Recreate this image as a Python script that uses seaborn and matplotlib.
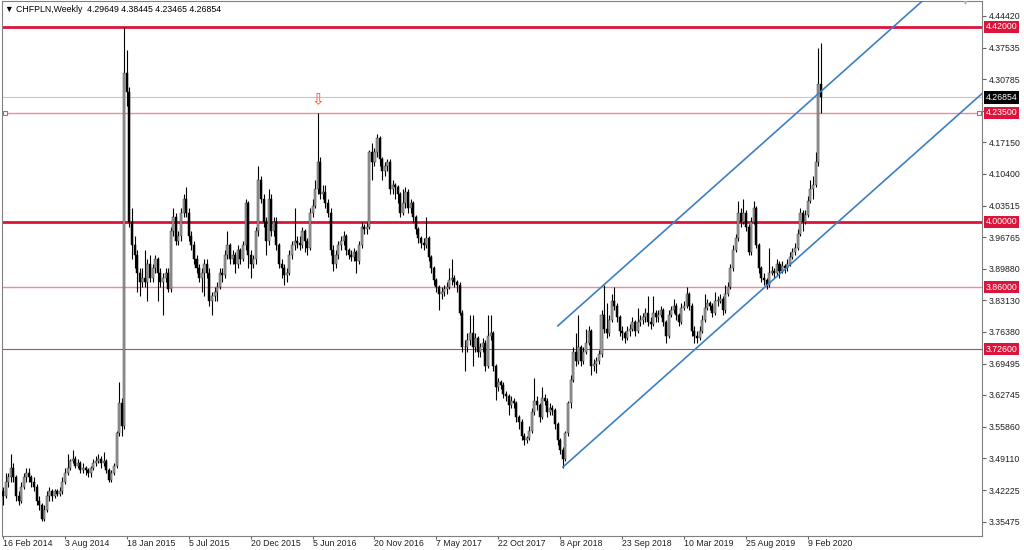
import matplotlib
matplotlib.use("Agg")
import matplotlib.pyplot as plt
import matplotlib.transforms as mtransforms
import pandas as pd
import seaborn as sns

# weekly CHFPLN candles, bar 0 = week of 16 Feb 2014
first_open = 3.42
closes = [
    3.41, 3.44, 3.45, 3.47, 3.45, 3.41, 3.40, 3.43, 3.45, 3.46,
    3.45, 3.44, 3.43, 3.40, 3.39, 3.36, 3.38, 3.41, 3.42, 3.41,
    3.42, 3.415, 3.42, 3.44, 3.46, 3.47, 3.485, 3.49, 3.475, 3.48,
    3.465, 3.47, 3.465, 3.46, 3.47, 3.48, 3.485, 3.49, 3.48, 3.485,
    3.465, 3.445, 3.46, 3.475, 3.545, 3.61, 3.56, 4.32, 4.28, 4.00,
    3.95, 3.93, 3.89, 3.87, 3.88, 3.87, 3.91, 3.88, 3.90, 3.92,
    3.89, 3.87, 3.88, 3.89, 3.855, 3.98, 4.01, 3.96, 3.97, 4.02,
    4.05, 4.02, 3.97, 3.95, 3.92, 3.90, 3.88, 3.89, 3.91, 3.89,
    3.83, 3.84, 3.85, 3.86, 3.89, 3.885, 3.93, 3.95, 3.92, 3.93,
    3.91, 3.94, 3.92, 3.95, 4.04, 3.93, 3.91, 3.92, 3.98, 4.09,
    4.05, 4.00, 3.96, 4.05, 3.98, 4.00, 3.95, 3.91, 3.90, 3.885,
    3.89, 3.93, 3.95, 3.96, 3.955, 3.95, 3.98, 3.96, 3.945, 4.02,
    4.035, 4.07, 4.13, 4.06, 4.065, 4.04, 4.02, 3.94, 3.91, 3.93,
    3.95, 3.96, 3.97, 3.94, 3.93, 3.925, 3.935, 3.915, 3.95, 3.99,
    3.985, 3.99, 4.15, 4.13, 4.15, 4.18, 4.135, 4.11, 4.12, 4.13,
    4.07, 4.08, 4.075, 4.06, 4.02, 4.04, 4.065, 4.03, 4.04, 4.01,
    3.985, 3.965, 3.955, 3.95, 3.965, 3.925, 3.90, 3.875, 3.86, 3.845,
    3.85, 3.855, 3.86, 3.875, 3.88, 3.87, 3.865, 3.805, 3.73, 3.73,
    3.745, 3.76, 3.73, 3.75, 3.72, 3.73, 3.74, 3.69, 3.755, 3.76,
    3.69, 3.645, 3.655, 3.65, 3.63, 3.625, 3.605, 3.615, 3.61, 3.58,
    3.57, 3.54, 3.53, 3.535, 3.55, 3.59, 3.615, 3.605, 3.58, 3.62,
    3.615, 3.59, 3.60, 3.595, 3.565, 3.53, 3.51, 3.49, 3.545, 3.61,
    3.66, 3.72, 3.70, 3.73, 3.70, 3.72, 3.74, 3.765, 3.69, 3.695,
    3.70, 3.715, 3.80, 3.77, 3.76, 3.79, 3.83, 3.82, 3.795, 3.765,
    3.76, 3.75, 3.765, 3.77, 3.785, 3.765, 3.785, 3.79, 3.795, 3.805,
    3.785, 3.78, 3.805, 3.795, 3.80, 3.81, 3.785, 3.755, 3.80, 3.81,
    3.82, 3.80, 3.785, 3.815, 3.82, 3.845, 3.82, 3.765, 3.755, 3.75,
    3.765, 3.79, 3.815, 3.825, 3.82, 3.805, 3.83, 3.83, 3.835, 3.81,
    3.845, 3.86, 3.90, 3.94, 3.965, 4.02, 4.00, 4.02, 3.99, 3.935,
    4.00, 4.03, 3.95, 3.90, 3.88, 3.875, 3.865, 3.89, 3.895, 3.89,
    3.91, 3.895, 3.905, 3.90, 3.91, 3.925, 3.935, 3.945, 3.975, 4.02,
    4.00, 4.015, 4.045, 4.07, 4.08, 4.13, 4.29649, 4.26854,
]
highs = [
    3.43, 3.46, 3.46, 3.50, 3.48, 3.455, 3.42, 3.44, 3.46, 3.47,
    3.47, 3.455, 3.45, 3.435, 3.41, 3.395, 3.39, 3.42, 3.43, 3.425,
    3.425, 3.425, 3.43, 3.45, 3.47, 3.50, 3.49, 3.51, 3.495, 3.49,
    3.485, 3.48, 3.475, 3.47, 3.475, 3.49, 3.495, 3.50, 3.495, 3.505,
    3.49, 3.47, 3.465, 3.48, 3.55, 3.655, 3.62, 4.42, 4.37, 4.29,
    4.03, 3.97, 3.94, 3.90, 3.90, 3.94, 3.92, 3.93, 3.91, 3.93,
    3.925, 3.90, 3.89, 3.90, 3.90, 3.99, 4.03, 4.02, 3.98, 4.03,
    4.06, 4.075, 4.03, 3.98, 3.96, 3.93, 3.91, 3.90, 3.92, 3.92,
    3.90, 3.85, 3.86, 3.87, 3.90, 3.90, 3.94, 3.98, 3.955, 3.94,
    3.935, 3.95, 3.945, 3.96, 4.05, 4.045, 3.94, 3.93, 3.99, 4.12,
    4.10, 4.06, 4.01, 4.07, 4.06, 4.01, 4.01, 3.955, 3.92, 3.91,
    3.90, 3.94, 3.96, 4.03, 3.97, 3.97, 3.99, 3.985, 3.965, 4.03,
    4.05, 4.09, 4.235, 4.14, 4.08, 4.08, 4.05, 4.03, 3.95, 3.94,
    3.96, 3.97, 3.98, 3.975, 3.945, 3.94, 3.945, 3.94, 3.96, 4.00,
    3.995, 4.00, 4.155, 4.17, 4.16, 4.19, 4.185, 4.14, 4.13, 4.135,
    4.135, 4.09, 4.085, 4.08, 4.065, 4.07, 4.075, 4.07, 4.05, 4.045,
    4.015, 3.99, 3.97, 3.965, 4.01, 3.97, 3.93, 3.905, 3.88, 3.865,
    3.86, 3.865, 3.87, 3.90, 3.92, 3.885, 3.875, 3.87, 3.81, 3.745,
    3.76, 3.80, 3.80, 3.76, 3.755, 3.74, 3.75, 3.745, 3.80, 3.80,
    3.765, 3.695, 3.665, 3.66, 3.655, 3.635, 3.63, 3.625, 3.62, 3.615,
    3.585, 3.575, 3.545, 3.54, 3.56, 3.60, 3.664, 3.625, 3.61, 3.645,
    3.63, 3.62, 3.61, 3.605, 3.60, 3.57, 3.535, 3.515, 3.55, 3.615,
    3.67, 3.73, 3.76, 3.80, 3.735, 3.73, 3.77, 3.775, 3.77, 3.705,
    3.71, 3.725, 3.81, 3.865, 3.825, 3.80, 3.845, 3.86, 3.825, 3.80,
    3.775, 3.765, 3.775, 3.78, 3.795, 3.79, 3.815, 3.80, 3.805, 3.815,
    3.84, 3.795, 3.84, 3.81, 3.81, 3.82, 3.815, 3.79, 3.81, 3.82,
    3.835, 3.825, 3.805, 3.825, 3.83, 3.86, 3.85, 3.825, 3.775, 3.765,
    3.775, 3.80, 3.845, 3.835, 3.83, 3.825, 3.85, 3.84, 3.845, 3.84,
    3.865, 3.87, 3.91, 3.95, 3.975, 4.045, 4.03, 4.05, 4.025, 3.995,
    4.01, 4.045, 4.035, 3.955, 3.905, 3.89, 3.88, 3.945, 3.905, 3.90,
    3.92, 3.915, 3.915, 3.91, 3.92, 3.935, 3.945, 3.955, 3.985, 4.03,
    4.025, 4.025, 4.055, 4.09, 4.10, 4.15, 4.375, 4.38445,
]
lows = [
    3.39, 3.405, 3.43, 3.44, 3.44, 3.40, 3.39, 3.395, 3.425, 3.44,
    3.44, 3.43, 3.42, 3.39, 3.38, 3.355, 3.355, 3.375, 3.40, 3.40,
    3.405, 3.41, 3.41, 3.415, 3.435, 3.455, 3.465, 3.48, 3.47, 3.47,
    3.46, 3.46, 3.455, 3.45, 3.45, 3.465, 3.475, 3.48, 3.47, 3.475,
    3.46, 3.44, 3.44, 3.455, 3.47, 3.54, 3.54, 3.555, 4.25, 3.99,
    3.92, 3.90, 3.85, 3.84, 3.86, 3.86, 3.83, 3.87, 3.87, 3.89,
    3.83, 3.86, 3.80, 3.87, 3.85, 3.85, 3.97, 3.95, 3.95, 3.96,
    4.01, 4.01, 3.96, 3.94, 3.91, 3.89, 3.87, 3.85, 3.84, 3.88,
    3.82, 3.80, 3.83, 3.83, 3.855, 3.87, 3.88, 3.92, 3.91, 3.91,
    3.89, 3.90, 3.91, 3.915, 3.94, 3.90, 3.88, 3.90, 3.91, 3.97,
    4.04, 3.99, 3.93, 3.95, 3.97, 3.97, 3.94, 3.90, 3.88, 3.865,
    3.87, 3.885, 3.92, 3.94, 3.945, 3.94, 3.945, 3.935, 3.93, 3.94,
    4.01, 4.03, 4.06, 4.05, 4.05, 4.03, 4.01, 3.93, 3.895, 3.90,
    3.92, 3.94, 3.95, 3.93, 3.92, 3.915, 3.915, 3.89, 3.91, 3.945,
    3.975, 3.975, 3.985, 4.09, 4.12, 4.14, 4.12, 4.09, 4.10, 4.11,
    4.06, 4.06, 4.05, 4.04, 4.01, 4.015, 4.03, 4.02, 4.02, 4.00,
    3.975, 3.955, 3.945, 3.94, 3.945, 3.915, 3.89, 3.865, 3.85, 3.81,
    3.835, 3.84, 3.845, 3.855, 3.865, 3.86, 3.85, 3.80, 3.72, 3.68,
    3.72, 3.735, 3.69, 3.72, 3.71, 3.71, 3.72, 3.68, 3.685, 3.745,
    3.68, 3.617, 3.635, 3.64, 3.62, 3.615, 3.585, 3.60, 3.60, 3.57,
    3.555, 3.53, 3.52, 3.525, 3.53, 3.545, 3.585, 3.595, 3.57, 3.575,
    3.605, 3.58, 3.585, 3.585, 3.555, 3.52, 3.50, 3.47, 3.485, 3.54,
    3.60, 3.655, 3.69, 3.695, 3.69, 3.695, 3.715, 3.735, 3.67, 3.68,
    3.675, 3.695, 3.71, 3.76, 3.75, 3.755, 3.785, 3.81, 3.785, 3.755,
    3.745, 3.74, 3.745, 3.755, 3.765, 3.755, 3.76, 3.775, 3.78, 3.785,
    3.775, 3.77, 3.775, 3.785, 3.785, 3.795, 3.775, 3.74, 3.75, 3.795,
    3.805, 3.79, 3.775, 3.78, 3.81, 3.815, 3.81, 3.755, 3.74, 3.74,
    3.745, 3.76, 3.785, 3.81, 3.81, 3.795, 3.80, 3.82, 3.825, 3.80,
    3.805, 3.84, 3.855, 3.895, 3.935, 3.96, 3.99, 3.995, 3.98, 3.93,
    3.93, 3.995, 3.945, 3.89, 3.87, 3.865, 3.855, 3.86, 3.885, 3.88,
    3.885, 3.88, 3.89, 3.89, 3.895, 3.905, 3.92, 3.93, 3.94, 3.97,
    3.98, 3.995, 4.01, 4.04, 4.05, 4.075, 4.12, 4.23465,
]

# price axis ticks and date labels (every 24 weeks)
price_ticks = [4.44420, 4.37535, 4.30785, 4.23965, 4.17150, 4.10400, 4.03515,
               3.96765, 3.89880, 3.83130, 3.76380, 3.69495, 3.62745, 3.55860,
               3.49110, 3.42225, 3.35475]
date_pos = [0, 24, 48, 72, 96, 120, 144, 168, 192, 216, 240, 264, 288, 312]
date_labels = ["16 Feb 2014", "3 Aug 2014", "18 Jan 2015", "5 Jul 2015",
               "20 Dec 2015", "5 Jun 2016", "20 Nov 2016", "7 May 2017",
               "22 Oct 2017", "8 Apr 2018", "23 Sep 2018", "10 Mar 2019",
               "25 Aug 2019", "9 Feb 2020"]

# horizontal levels and channel (anchor bar, price)
strong_levels = [4.42, 4.00]
soft_levels = [4.235, 3.86]
thin_level = 3.726
last_price = 4.26854
channel_upper_x = [215, 380]
channel_upper_y = [3.776, 4.593]
channel_lower_x = [217, 380]
channel_lower_y = [3.472, 4.279]
arrow_bar = 122

opens = [first_open] + closes[:-1]
df = pd.DataFrame({"open": opens, "high": highs, "low": lows, "close": closes})
df["bar"] = range(len(df))
df["high"] = df[["high", "open", "close"]].max(axis=1)
df["low"] = df[["low", "open", "close"]].min(axis=1)
df["bull"] = df["close"] >= df["open"]
df["bottom"] = df[["open", "close"]].min(axis=1)
df["height"] = (df["close"] - df["open"]).abs().clip(lower=0.0015)

sns.set_style("white")
plt.rcParams["font.family"] = ["Liberation Sans", "DejaVu Sans"]
red = "#dc143c"

fig = plt.figure(figsize=(10.24, 5.5), dpi=100)
# plot area: x 2..982 px, y 1..536 px
ax = fig.add_axes([2 / 1024, 14 / 550, 980 / 1024, 535 / 550])

ax.axhline(last_price, color="#c8c8c8", lw=0.8, zorder=1)
for lv in strong_levels:
    ax.axhline(lv, color=red, lw=2.0, zorder=1)
for lv in soft_levels:
    ax.axhline(lv, color="#f08a9c", lw=1.0, zorder=1)
ax.axhline(thin_level, color="#b8485c", lw=0.8, zorder=1)
blend = mtransforms.blended_transform_factory(ax.transAxes, ax.transData)
ax.plot([0.003, 0.997], [soft_levels[0]] * 2, ls="none", marker="s", ms=3,
        mfc="white", mec="#e05070", mew=0.8, transform=blend, zorder=2)

ax.vlines(df["bar"], df["low"], df["high"], color="black", lw=0.8, zorder=3)
up = df[df["bull"]]
dn = df[~df["bull"]]
ax.bar(up["bar"], up["height"], bottom=up["bottom"], width=0.78,
       color="#a0a0a0", edgecolor="#404040", lw=0.35, zorder=4)
ax.bar(dn["bar"], dn["height"], bottom=dn["bottom"], width=0.78,
       color="black", edgecolor="black", lw=0.35, zorder=4)

sns.lineplot(x=channel_upper_x, y=channel_upper_y, color="#3d7fc4", lw=1.2,
             ax=ax, estimator=None, sort=False, zorder=5)
sns.lineplot(x=channel_lower_x, y=channel_lower_y, color="#3d7fc4", lw=1.2,
             ax=ax, estimator=None, sort=False, zorder=5)

ax.text(arrow_bar, soft_levels[0] + 0.012, "\u21e9", color="#ff4a1a",
        fontsize=11, ha="center", va="bottom", family=["DejaVu Sans"], zorder=6)

ax.set_xlim(-0.4, 379.5)
ax.set_ylim(4 + (222 - 536) / 464.3, 4 + (222 - 1) / 464.3)

ax.yaxis.tick_right()
ax.set_yticks(price_ticks)
# the 4.23965 label sits under the 4.23500 level box
ax.set_yticklabels(["" if abs(v - soft_levels[0]) < 0.02 else f"{v:.5f}"
                    for v in price_ticks])
ax.set_xticks(date_pos)
ax.set_xticklabels(date_labels, ha="left")
ax.tick_params(axis="y", length=3, pad=2, labelsize=6.3, color="#606060",
               labelcolor="#202020", right=True, left=False)
ax.tick_params(axis="x", length=2, pad=0.5, labelsize=6.3, color="#606060",
               labelcolor="#202020", bottom=True)
for s in ax.spines.values():
    s.set_color("#808080")
    s.set_linewidth(0.8)

for lv in strong_levels + soft_levels + [thin_level]:
    ax.text(1.004, lv, f"{lv:.5f}", transform=blend, ha="left", va="center",
            color="white", fontsize=6.3, clip_on=False, zorder=10,
            bbox=dict(boxstyle="square,pad=0.2", fc=red, ec="none"))
ax.text(1.004, last_price, f"{last_price:.5f}", transform=blend, ha="left",
        va="center", color="white", fontsize=6.3, clip_on=False, zorder=10,
        bbox=dict(boxstyle="square,pad=0.2", fc="black", ec="none"))

fig.text(5 / 1024, 1 - 9 / 550,
         "\u25bc CHFPLN,Weekly  4.29649 4.38445 4.23465 4.26854",
         fontsize=6.3, va="center", ha="left", color="black")
fig.text(965 / 1024, 1 - 3 / 550, "\u25bc", fontsize=5, color="#b0b0b0",
         ha="center", va="center")

fig.savefig("out.png", dpi=100)
